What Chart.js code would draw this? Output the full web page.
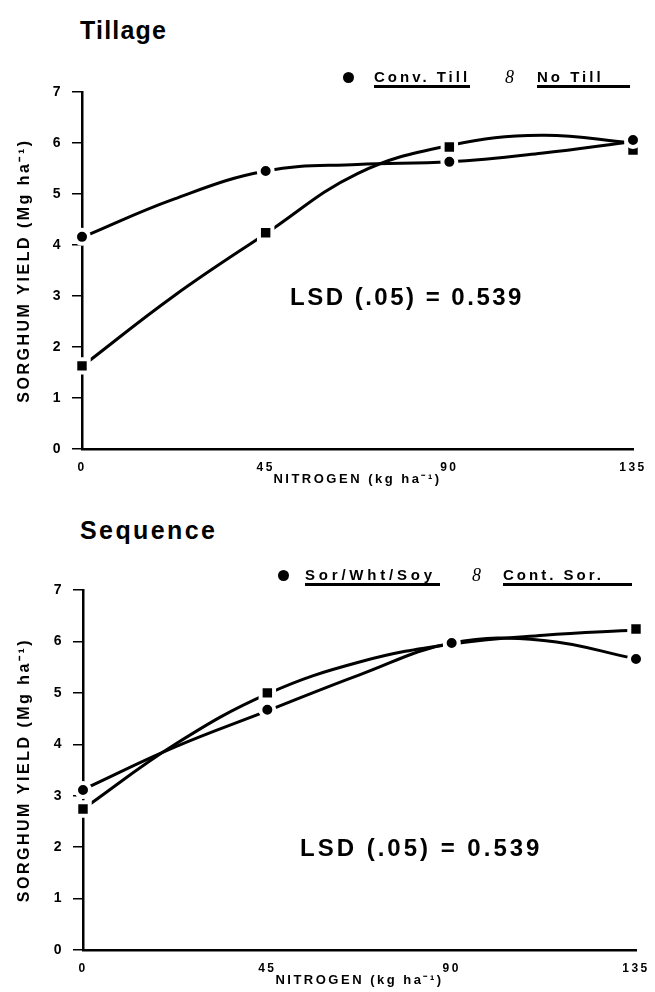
<!DOCTYPE html>
<html>
<head>
<meta charset="utf-8">
<script src="https://cdn.jsdelivr.net/npm/chart.js@4/dist/chart.umd.min.js"></script>
<style>
html,body{margin:0;padding:0;background:#fff;}
body{width:655px;height:992px;position:relative;overflow:hidden;font-family:"Liberation Sans",Arial,Helvetica,sans-serif;color:#000;}
canvas{position:absolute;left:0;}
.title{position:absolute;font-weight:bold;font-size:25px;letter-spacing:1.2px;line-height:30px;white-space:nowrap;z-index:2;}
.leg{position:absolute;font-weight:bold;font-size:15px;letter-spacing:3px;line-height:17px;white-space:nowrap;border-bottom:3px solid #000;z-index:2;}
.dot{position:absolute;width:11px;height:11px;border-radius:50%;background:#000;z-index:2;}
.eight{position:absolute;font-family:"Liberation Serif","DejaVu Serif",serif;font-style:italic;font-size:18px;line-height:20px;z-index:2;}
.lsd{position:absolute;font-weight:bold;font-size:24px;letter-spacing:2.5px;line-height:28px;white-space:nowrap;z-index:2;}
</style>
</head>
<body>
<div class="title" style="left:80px;top:15px;">Tillage</div>
<div class="dot" style="left:343px;top:72px;"></div>
<div class="leg" style="left:374px;top:68px;width:96px;">Conv. Till</div>
<div class="eight" style="left:505px;top:67px;">8</div>
<div class="leg" style="left:537px;top:68px;width:93px;">No Till</div>
<div class="lsd" style="left:290px;top:283px;">LSD (.05) = 0.539</div>
<canvas id="c1" width="655" height="440" style="top:60px;"></canvas>

<div class="title" style="left:80px;top:515px;letter-spacing:2.4px;">Sequence</div>
<div class="dot" style="left:278px;top:570px;"></div>
<div class="leg" style="left:305px;top:566px;width:135px;letter-spacing:3.8px;">Sor/Wht/Soy</div>
<div class="eight" style="left:472px;top:565px;">8</div>
<div class="leg" style="left:503px;top:566px;width:129px;">Cont. Sor.</div>
<div class="lsd" style="left:300px;top:834px;letter-spacing:3px;">LSD (.05) = 0.539</div>
<canvas id="c2" width="655" height="432" style="top:560px;"></canvas>

<script>
// ---- data ----
const nitrogen = [0, 45, 90, 135];
const xTickLabels = ['0', '45', '90', '135'];
const yTickValues = [0, 1, 2, 3, 4, 5, 6, 7];
const fitNitrogen = [0, 22.5, 45, 67.5, 90, 112.5, 135];

// Tillage panel (observed means)
const convTill = [4.16, 5.45, 5.63, 6.06];
const noTill = [1.63, 4.24, 5.92, 5.86];
// Tillage panel fitted curves
const convTillFit = [4.15, 4.9, 5.45, 5.58, 5.63, 5.8, 6.03];
const noTillFit = [1.62, 3.0, 4.22, 5.4, 5.95, 6.15, 6.0];

// Sequence panel (observed means)
const sorWhtSoy = [3.11, 4.67, 5.97, 5.66];
const contSor = [2.74, 5.0, 5.95, 6.24];
// Sequence panel fitted curves
const sorWhtSoyFit = [3.12, 3.95, 4.65, 5.35, 5.97, 6.02, 5.66];
const contSorFit = [2.74, 4.0, 4.98, 5.6, 5.95, 6.12, 6.22];

const yTitle = 'SORGHUM YIELD (Mg ha\u207B\u00B9)';
const xTitle = 'NITROGEN (kg ha\u207B\u00B9)';

function pts(xs, ys) { return xs.map((x, i) => ({ x: x, y: ys[i] })); }

const spacingPlugin = {
  id: 'spacing',
  beforeDraw(c) { c.ctx.letterSpacing = '2.5px'; },
  afterDraw(c) { c.ctx.letterSpacing = '0px'; }
};

function markerSet(label, data, style) {
  return {
    label: label, data: pts(nitrogen, data), showLine: false,
    pointStyle: style, pointRadius: style === 'circle' ? 7 : 9.5,
    pointBackgroundColor: '#000', pointBorderColor: '#fff', pointBorderWidth: 4,
    clip: false
  };
}
function fitSet(label, data) {
  return {
    label: label, data: pts(fitNitrogen, data), showLine: true,
    borderColor: '#000', borderWidth: 3, tension: 0.4, pointRadius: 0,
    fill: false, clip: false
  };
}

function makeChart(id, sets, cfg) {
  return new Chart(document.getElementById(id), {
    type: 'scatter',
    data: { datasets: sets },
    options: {
      responsive: false, animation: false, devicePixelRatio: 1,
      layout: { padding: { top: cfg.padTop, right: cfg.padRight, left: 0, bottom: 0 } },
      plugins: { legend: { display: false }, tooltip: { enabled: false } },
      scales: {
        x: {
          type: 'linear', min: 0, max: 135,
          afterBuildTicks: s => { s.ticks = nitrogen.map(v => ({ value: v })); },
          afterFit: s => { s.height = cfg.xHeight; },
          grid: { display: false },
          border: { display: true, color: '#000', width: 2.5 },
          ticks: {
            color: '#000', padding: 3, maxRotation: 0, autoSkip: false,
            font: { family: 'Liberation Sans', weight: 'bold', size: 12 },
            callback: v => xTickLabels[nitrogen.indexOf(v)]
          },
          title: {
            display: true, text: xTitle, color: '#000',
            font: { family: 'Liberation Sans', weight: 'bold', size: 13 },
            padding: { top: 0, bottom: cfg.xTitlePad }
          }
        },
        y: {
          min: 0, max: 7,
          afterBuildTicks: s => { s.ticks = yTickValues.map(v => ({ value: v })); },
          afterFit: s => { s.width = cfg.yWidth; },
          grid: { display: true, drawOnChartArea: false, drawTicks: true, tickLength: 10, color: '#000', lineWidth: 1.5 },
          border: { display: true, color: '#000', width: 2.5 },
          ticks: {
            color: '#000', padding: 9,
            font: { family: 'Liberation Sans', weight: 'bold', size: 14 }
          },
          title: {
            display: true, text: yTitle, color: '#000',
            font: { family: 'Liberation Sans', weight: 'bold', size: 16 },
            padding: { top: 15, bottom: 0 }
          }
        }
      }
    },
    plugins: [spacingPlugin]
  });
}

makeChart('c1', [
  markerSet('Conv. Till', convTill, 'circle'),
  markerSet('No Till', noTill, 'rect'),
  fitSet('Conv. Till fit', convTillFit),
  fitSet('No Till fit', noTillFit)
], { padTop: 32, padRight: 22, xHeight: 51, yWidth: 82, xTitlePad: 13 });

makeChart('c2', [
  markerSet('Sor/Wht/Soy', sorWhtSoy, 'circle'),
  markerSet('Cont. Sor.', contSor, 'rect'),
  fitSet('Sor/Wht/Soy fit', sorWhtSoyFit),
  fitSet('Cont. Sor. fit', contSorFit)
], { padTop: 30, padRight: 19, xHeight: 42, yWidth: 83, xTitlePad: 4 });
</script>
</body>
</html>
